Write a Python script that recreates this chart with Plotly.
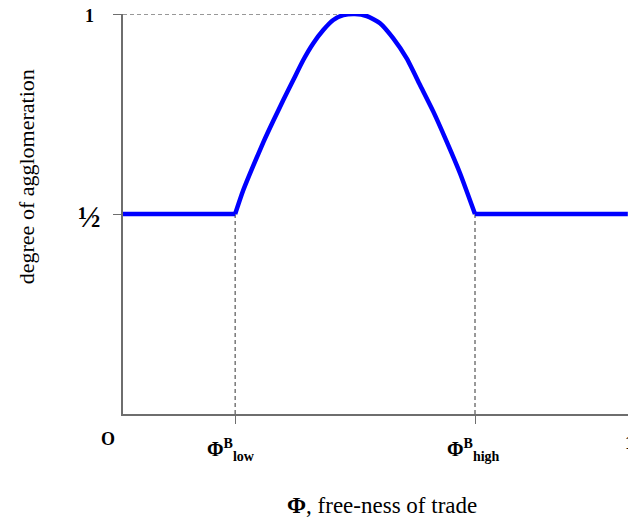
import plotly.graph_objects as go

# thresholds on the free-ness of trade axis
phi_low = 0.219
phi_high = 0.6875
phi_peak = 0.453
phi_end = 0.986

# hump of the agglomeration curve
hump_x = [0.219, 0.235, 0.2545, 0.274, 0.2936, 0.3131, 0.3326, 0.3521, 0.3717,
          0.3912, 0.4107, 0.4303, 0.453, 0.476, 0.502, 0.5279, 0.5541, 0.5801,
          0.6061, 0.6322, 0.6582, 0.6875]
hump_y = [0.5, 0.56, 0.621, 0.679, 0.733, 0.785, 0.835, 0.885, 0.927,
          0.96, 0.985, 0.997, 1.0, 0.995, 0.977, 0.939, 0.889, 0.8225,
          0.756, 0.681, 0.602, 0.5]

# flat parts at one half
flat_x = [0.0, phi_low, None, phi_high, phi_end]
flat_y = [0.5, 0.5, None, 0.5, 0.5]

y_ticks = [0.5, 1.0]
x_ticks = [phi_low, phi_high, 1.0]

FONT = "Liberation Serif"
AXIS_COLOR = "#6e6e6e"
BLUE = "#0000ff"

fig = go.Figure()
fig.add_trace(go.Scatter(x=flat_x, y=flat_y, mode="lines",
                         line=dict(color=BLUE, width=4.5), hoverinfo="skip"))
fig.add_trace(go.Scatter(x=hump_x, y=hump_y, mode="lines",
                         line=dict(color=BLUE, width=4.5, shape="spline", smoothing=0.6),
                         hoverinfo="skip"))

# dashed guides
dash = dict(color="#333333", width=1, dash="4px,3px")
fig.add_shape(type="line", x0=0, x1=phi_peak, y0=1, y1=1, line=dash, layer="below")
fig.add_shape(type="line", x0=phi_low, x1=phi_low, y0=0, y1=0.5, line=dash, layer="below")
fig.add_shape(type="line", x0=phi_high, x1=phi_high, y0=0, y1=0.5, line=dash, layer="below")

tick_font = dict(family=FONT, size=18, color="black")
phi_font = dict(family=FONT, size=20, color="black")
title_font = dict(family=FONT, size=22, color="black")

annotations = [
    dict(text="<b>1</b>", x=-0.0654, y=0.995, font=tick_font),
    dict(text="<b>½</b>", x=-0.066, y=0.495, font=dict(family=FONT, size=30, color="black")),
    dict(text="<b>O</b>", x=-0.029, y=-0.0625, font=tick_font),
    dict(text="<b>1</b>", x=(623 - 123) / 512, y=-0.0725, xanchor="left", font=tick_font),
    dict(text="<b>Φ<sup>B</sup><sub>low</sub></b>", x=(205 - 123) / 512, y=-0.09,
         xanchor="left", font=phi_font),
    dict(text="<b>Φ<sup>B</sup><sub>high</sub></b>", x=(445 - 123) / 512, y=-0.09,
         xanchor="left", font=phi_font),
    dict(text="<b>Φ</b>, free-ness of trade", x=0.506, y=-0.2275,
         font=dict(family=FONT, size=23, color="black")),
    dict(text="degree of agglomeration", x=-0.189, y=0.5925, textangle=-90,
         font=title_font),
]
for a in annotations:
    a.setdefault("xanchor", "center")
    fig.add_annotation(xref="paper", yref="paper", showarrow=False, yanchor="middle", **a)

fig.update_xaxes(range=[0, 1], showline=True, linecolor=AXIS_COLOR, linewidth=1.5,
                 showgrid=False, zeroline=False, tickvals=x_ticks, ticktext=["", "", ""],
                 ticks="outside", ticklen=8, tickcolor=AXIS_COLOR, tickwidth=1)
fig.update_yaxes(range=[0, 1], showline=True, linecolor=AXIS_COLOR, linewidth=1.5,
                 showgrid=False, zeroline=False, tickvals=y_ticks, ticktext=["", ""],
                 ticks="outside", ticklen=8, tickcolor=AXIS_COLOR, tickwidth=1)

# the page body adds an 8px offset, so the figure is 8px smaller than the window
fig.update_layout(
    width=628, height=510,
    margin=dict(l=115, r=1, t=6, b=104),
    plot_bgcolor="white", paper_bgcolor="white",
    showlegend=False,
    font=dict(family=FONT),
)

fig.write_html("out.html")
